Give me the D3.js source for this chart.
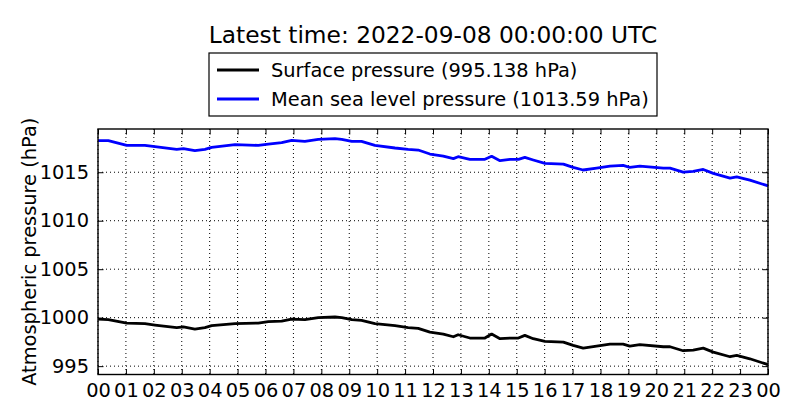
<!DOCTYPE html>
<html>
<head>
<meta charset="utf-8">
<script src="https://cdn.jsdelivr.net/npm/d3@7"></script>
<style>
  body { margin: 0; background: #fff; }
  .canvas { width: 800px; height: 420px; }
  text { font-family: 'DejaVu Sans', sans-serif; fill: #000; }
</style>
</head>
<body>
<div class="canvas"></div>
<script>
// hours after 2022-09-07 00:00 UTC
const hours = [
  0, 0.37, 1.03, 1.68, 2.04, 2.82, 3.06, 3.47, 3.83, 4.07, 4.91, 5.74, 6.1, 6.58,
  6.94, 7.41, 7.89, 8.49, 8.73, 9.09, 9.44, 9.92, 10.64, 11.11, 11.47, 11.89, 12.37,
  12.73, 12.9, 13.32, 13.86, 14.1, 14.4, 14.76, 15.06, 15.29, 15.59, 16.01, 16.67,
  17.02, 17.38, 17.86, 18.34, 18.81, 19.05, 19.41, 20.25, 20.49, 20.96, 21.32, 21.68,
  22.04, 22.64, 22.88, 23.35, 23.95, 24,
];
const surfacePressure = [
  999.86, 999.79, 999.44, 999.38, 999.24, 998.97, 999.04, 998.82, 998.97, 999.17, 999.38,
  999.44, 999.59, 999.65, 999.86, 999.79, 1000.0, 1000.07, 1000.0, 999.79, 999.73, 999.38,
  999.17, 998.97, 998.9, 998.51, 998.31, 998.03, 998.24, 997.9, 997.9, 998.31, 997.83,
  997.9, 997.9, 998.17, 997.83, 997.55, 997.48, 997.14, 996.86, 997.07, 997.27, 997.27,
  997.07, 997.21, 997.0, 997.0, 996.59, 996.66, 996.86, 996.45, 995.97, 996.1, 995.76,
  995.2, 995.138,
];
const seaLevelPressure = [
  1018.26, 1018.26, 1017.77, 1017.77, 1017.64, 1017.36, 1017.43, 1017.22, 1017.36, 1017.57,
  1017.84, 1017.77, 1017.91, 1018.05, 1018.29, 1018.19, 1018.39, 1018.46, 1018.39, 1018.19,
  1018.19, 1017.77, 1017.5, 1017.36, 1017.29, 1016.88, 1016.67, 1016.4, 1016.6, 1016.33,
  1016.33, 1016.64, 1016.19, 1016.33, 1016.33, 1016.53, 1016.26, 1015.91, 1015.84, 1015.5,
  1015.23, 1015.43, 1015.64, 1015.71, 1015.5, 1015.64, 1015.43, 1015.43, 1015.02, 1015.09,
  1015.29, 1014.88, 1014.4, 1014.53, 1014.19, 1013.64, 1013.59,
];
const yTicks = [995, 1000, 1005, 1010, 1015];
const seriesNames = ['Surface pressure (995.138 hPa)', 'Mean sea level pressure (1013.59 hPa)'];
const seriesColors = ['#000000', '#0000ff'];
const titleText = 'Latest time: 2022-09-08 00:00:00 UTC';
const yLabel = 'Atmospheric pressure (hPa)';

const startTime = new Date(Date.UTC(2022, 8, 7, 0, 0, 0));
const endTime = new Date(Date.UTC(2022, 8, 8, 0, 0, 0));
const toTime = h => new Date(startTime.getTime() + h * 3600 * 1000);

const margin = { top: 129, right: 32, bottom: 45.5, left: 98 };
const width = 800;
const height = 420;
const innerW = width - margin.left - margin.right;
const innerH = height - margin.top - margin.bottom;
const tickLen = 5.5;

const series = [surfacePressure, seaLevelPressure].map((values, i) => ({
  name: seriesNames[i],
  color: seriesColors[i],
  points: values.map((v, j) => ({ t: toTime(hours[j]), v })),
}));

const allValues = surfacePressure.concat(seaLevelPressure);
const x = d3.scaleUtc().domain([startTime, endTime]).range([0, innerW]);
const y = d3
  .scaleLinear()
  .domain([d3.min(allValues) - 1, d3.max(allValues) + 1])
  .range([innerH, 0]);

const svg = d3
  .select('.canvas')
  .append('svg')
  .attr('width', width)
  .attr('height', height);

const plot = svg
  .append('g')
  .attr('id', 'plot')
  .attr('transform', `translate(${margin.left},${margin.top})`);

// grid
const hourTicks = x.ticks(d3.utcHour.every(1));
plot
  .append('g')
  .attr('id', 'grid')
  .selectAll('line.vx')
  .data(hourTicks)
  .join('line')
  .attr('x1', d => x(d))
  .attr('x2', d => x(d))
  .attr('y1', 0)
  .attr('y2', innerH)
  .attr('stroke', '#000')
  .attr('stroke-width', 1)
  .attr('stroke-dasharray', '1,3');

plot
  .select('#grid')
  .selectAll('line.hy')
  .data(yTicks)
  .join(enter => enter.append('line').attr('class', 'hy'))
  .attr('x1', 0)
  .attr('x2', innerW)
  .attr('y1', d => y(d))
  .attr('y2', d => y(d))
  .attr('stroke', '#000')
  .attr('stroke-width', 1)
  .attr('stroke-dasharray', '1,3');

// lines
const line = d3
  .line()
  .x(d => x(d.t))
  .y(d => y(d.v));

plot
  .append('g')
  .attr('id', 'lines')
  .selectAll('path')
  .data(series)
  .join('path')
  .attr('d', d => line(d.points))
  .attr('fill', 'none')
  .attr('stroke', d => d.color)
  .attr('stroke-width', 2.8)
  .attr('stroke-linejoin', 'round');

// axes: ticks point inward on all four sides
const xAxis = d3
  .axisBottom(x)
  .ticks(d3.utcHour.every(1))
  .tickFormat(d3.utcFormat('%H'))
  .tickSizeInner(-tickLen)
  .tickSizeOuter(0)
  .tickPadding(9);
const yAxis = d3
  .axisLeft(y)
  .tickValues(yTicks)
  .tickFormat(d3.format('d'))
  .tickSizeInner(-tickLen)
  .tickSizeOuter(0)
  .tickPadding(9);

const styleAxis = g => {
  g.select('.domain').remove();
  g.selectAll('.tick line').attr('stroke', '#000').attr('stroke-width', 1);
  g.selectAll('.tick text')
    .attr('font-size', '19.4px')
    .attr('font-family', "'DejaVu Sans', sans-serif")
    .attr('fill', '#000');
};

plot.append('g').attr('transform', `translate(0,${innerH})`).call(xAxis).call(styleAxis);
plot.append('g').call(yAxis).call(styleAxis);
plot
  .append('g')
  .call(d3.axisTop(x).ticks(d3.utcHour.every(1)).tickFormat('').tickSizeInner(-tickLen).tickSizeOuter(0))
  .call(styleAxis);
plot
  .append('g')
  .attr('transform', `translate(${innerW},0)`)
  .call(d3.axisRight(y).tickValues(yTicks).tickFormat('').tickSizeInner(-tickLen).tickSizeOuter(0))
  .call(styleAxis);

plot
  .append('rect')
  .attr('width', innerW)
  .attr('height', innerH)
  .attr('fill', 'none')
  .attr('stroke', '#000')
  .attr('stroke-width', 1.4);

// labels
svg
  .append('text')
  .attr('x', margin.left + innerW / 2)
  .attr('y', 43)
  .attr('text-anchor', 'middle')
  .attr('font-size', '23.3px')
  .text(titleText);

svg
  .append('text')
  .attr('transform', `translate(36,${margin.top + innerH / 2}) rotate(-90)`)
  .attr('text-anchor', 'middle')
  .attr('font-size', '19.4px')
  .text(yLabel);

// legend
const legend = svg.append('g').attr('id', 'legend').attr('transform', 'translate(209,53)');
legend
  .append('rect')
  .attr('width', 448)
  .attr('height', 63)
  .attr('fill', '#fff')
  .attr('stroke', '#000')
  .attr('stroke-width', 1.2);

const items = legend
  .selectAll('g.item')
  .data(series)
  .join('g')
  .attr('class', 'item')
  .attr('transform', (d, i) => `translate(0,${17 + i * 29})`);

items
  .append('line')
  .attr('x1', 8)
  .attr('x2', 50)
  .attr('stroke', d => d.color)
  .attr('stroke-width', 2.8);

items
  .append('text')
  .attr('x', 62)
  .attr('y', 7)
  .attr('font-size', '19.4px')
  .text(d => d.name);
</script>
</body>
</html>
